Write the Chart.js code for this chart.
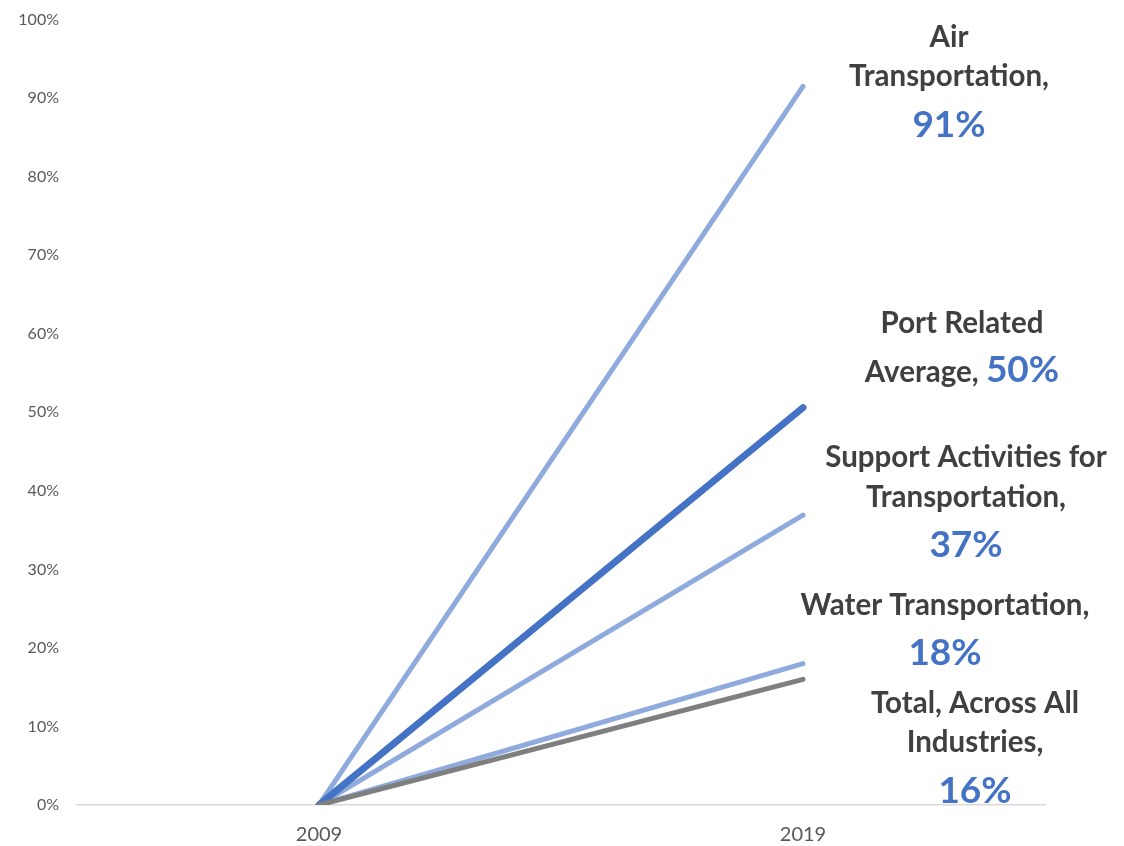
<!DOCTYPE html>
<html>
<head>
<meta charset="utf-8">
<script src="https://cdn.jsdelivr.net/npm/chart.js@4.4.1/dist/chart.umd.min.js"></script>
<style>
html,body{margin:0;padding:0;background:#fff;}
#wrap{width:1124px;height:846px;position:relative;}
</style>
</head>
<body>
<div id="wrap"><canvas id="c" width="1124" height="846"></canvas></div>
<script>
const categories = ["2009", "2019"];
const airTransportation = [0, 0.915];
const portRelatedAverage = [0, 0.506];
const supportActivities = [0, 0.369];
const waterTransportation = [0, 0.180];
const totalAllIndustries = [0, 0.160];
const yTicks = [0, 0.1, 0.2, 0.3, 0.4, 0.5, 0.6, 0.7, 0.8, 0.9, 1.0];

const labelTexts = [
  { lines: [[["Air","t"]],[["Transportation,","t"]],[["91%","p"]]] },
  { lines: [[["Port Related","t"]],[["Average, ","t"],["50%","p"]]] },
  { lines: [[["Support Activities for","t"]],[["Transportation,","t"]],[["37%","p"]]] },
  { lines: [[["Water Transportation,","t"]],[["18%","p"]]] },
  { lines: [[["Total, Across All","t"]],[["Industries,","t"]],[["16%","p"]]] }
];
// layout: center x and baselines (pixels)
const labelLayout = [
  { x: 949, y: [47, 86, 137] },
  { x: 962, y: [333, 382] },
  { x: 966, y: [467, 507, 557] },
  { x: 945, y: [615, 665] },
  { x: 975, y: [713, 752, 803] }
];

const LIGHT = "#8faadc", DARK = "#4472c4", GRAY = "#7f7f7f";

const labelPlugin = {
  id: "endLabels",
  afterDraw(chart) {
    const ctx = chart.ctx;
    ctx.save();
    ctx.textBaseline = "alphabetic";
    ctx.textAlign = "left";
    const fonts = { t: "bold 29.5px Lato", p: "bold 37px Lato" };
    const colors = { t: "#404040", p: DARK };
    labelTexts.forEach((lab, i) => {
      const lay = labelLayout[i];
      lab.lines.forEach((segs, j) => {
        let w = 0;
        segs.forEach(s => { ctx.font = fonts[s[1]]; w += ctx.measureText(s[0]).width; });
        let x = lay.x - w / 2;
        segs.forEach(s => {
          ctx.font = fonts[s[1]];
          ctx.fillStyle = colors[s[1]];
          ctx.fillText(s[0], x, lay.y[j]);
          x += ctx.measureText(s[0]).width;
        });
      });
    });
    ctx.restore();
  }
};

const ds = (label, data, color, width) => ({
  label, data, borderColor: color, backgroundColor: color,
  borderWidth: width, pointRadius: 0, pointHoverRadius: 0,
  borderCapStyle: "round", tension: 0, fill: false
});

new Chart(document.getElementById("c"), {
  type: "line",
  data: {
    labels: categories,
    datasets: [
      ds("Total, Across All Industries", totalAllIndustries, GRAY, 5),
      ds("Port Related Average", portRelatedAverage, DARK, 7),
      ds("Water Transportation", waterTransportation, LIGHT, 5),
      ds("Support Activities for Transportation", supportActivities, LIGHT, 5),
      ds("Air Transportation", airTransportation, LIGHT, 5)
    ]
  },
  options: {
    responsive: false,
    animation: false,
    layout: { padding: { top: 9, right: 79, left: 0, bottom: 0 } },
    plugins: { legend: { display: false }, tooltip: { enabled: false } },
    scales: {
      x: {
        offset: true,
        grid: { display: false },
        border: { display: true, color: "#d9d9d9", width: 1.5 },
        ticks: { color: "#595959", font: { family: "Lato", size: 20 }, padding: 10 },
        afterFit(s) { s.height = 41; }
      },
      y: {
        min: 0, max: 1,
        grid: { display: false },
        border: { display: false },
        afterBuildTicks(s) { s.ticks = yTicks.map(v => ({ value: v })); },
        ticks: {
          color: "#595959", font: { family: "Lato", size: 16 }, padding: 10,
          callback: v => Math.round(v * 100) + "%"
        },
        afterFit(s) { s.width = 77; }
      }
    }
  },
  plugins: [labelPlugin]
});
</script>
</body>
</html>
